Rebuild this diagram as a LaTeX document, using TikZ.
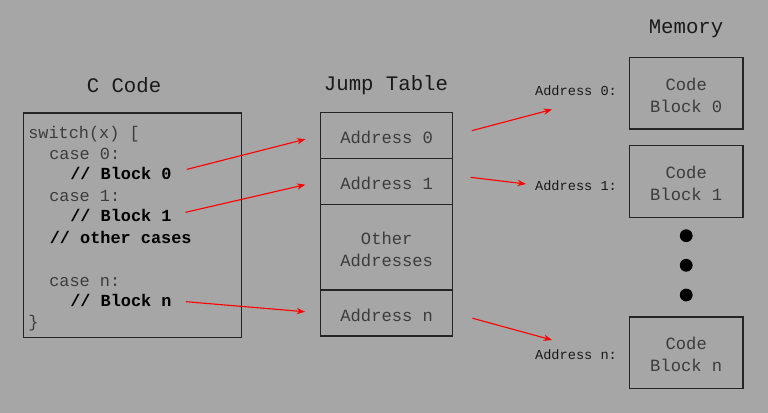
\documentclass[tikz,border=0pt]{standalone}
\usepackage{fontspec}
\setmonofont{Liberation Mono}
\usetikzlibrary{arrows.meta, calc, positioning}
\definecolor{bggray}{RGB}{166,166,166}
\definecolor{txtgray}{RGB}{60,60,60}
\definecolor{boxline}{RGB}{36,36,36}

\begin{document}
\begin{tikzpicture}[x=0.025cm, y=-0.025cm,
    title/.style={font=\ttfamily\fontsize{14.7}{16}\selectfont, text=black!90},
    codeline/.style={anchor=mid west, inner sep=0pt, font=\ttfamily\fontsize{12}{14}\selectfont, text=txtgray},
    boldline/.style={codeline, font=\ttfamily\bfseries\fontsize{12}{14}\selectfont, text=black},
    cell/.style={draw=boxline, line width=1.1pt, minimum width=3.3cm, align=center, text height=11.6pt,
                 font=\ttfamily\fontsize{12.2}{15.5}\selectfont, text=txtgray},
    twoline/.style={cell, text height=27.2pt},
    memlabel/.style={font=\ttfamily\fontsize{9.7}{12}\selectfont, text=black!90},
    jump/.style={red, line width=0.8pt, -{Stealth[length=6pt,width=4.5pt]}}
]
    \fill[bggray] (0,0) rectangle (768,413);

    % titles
    \node[title] (tcode) at (124,85.5) {C Code};
    \node[title] (ttable) at (386,85.5) {Jump Table};
    \node[title] (tmem) at (686,28.5) {Memory};

    % C code
    \node[draw=boxline, line width=1.1pt, minimum width=5.45cm, minimum height=5.6cm] (code) at (132.5,225.3) {};
    \node[codeline] (sw) at (28,135.2) {switch(x) [};
    \node[codeline] (c0) at (49,156.2) {case 0:};
    \node[boldline] (b0) at (70,176.2) {// Block 0};
    \node[codeline] (c1) at (49,198) {case 1:};
    \node[boldline] (b1) at (70,218.5) {// Block 1};
    \node[boldline] (oc) at (49.5,240.2) {// other cases};
    \node[codeline] (cn) at (49,283) {case n:};
    \node[boldline] (bn) at (70,303.5) {// Block n};
    \node[codeline] (cl) at (28,324) {\}};

    % jump table
    \node[cell, minimum height=1.14cm] (r0) at (386.7,135.5) {Address 0};
    \node[cell, minimum height=1.15cm] (r1) at (386.7,181.3) {Address 1};
    \node[twoline, minimum height=2.14cm] (ro) at (386.7,247.2) {Other\\Addresses};
    \node[cell, minimum height=1.15cm] (rn) at (386.7,313) {Address n};

    % memory
    \node[twoline, minimum width=2.84cm, minimum height=1.79cm] (m0) at (686.2,93.4) {Code\\Block 0};
    \node[twoline, minimum width=2.84cm, minimum height=1.79cm] (m1) at (686.2,181.5) {Code\\Block 1};
    \node[twoline, minimum width=2.84cm, minimum height=1.79cm] (mn) at (686.2,352.7) {Code\\Block n};
    \foreach \y in {235.7,265.3,295}
        \fill[black] (686.2,\y) circle (0.16cm);

    \node[memlabel] (l0) at (576,90.5) {Address 0:};
    \node[memlabel] (l1) at (576,185.5) {Address 1:};
    \node[memlabel] (ln) at (576,354.5) {Address n:};
    \coordinate (p0) at (552,109.5);
    \coordinate (p1) at (526,184);
    \coordinate (pn) at (552,340);

    % arrows
    \draw[jump, shorten <=11pt, shorten >=10.6pt] (b0.east) -- (r0.west);
    \draw[jump, shorten <=10pt, shorten >=10.6pt] (b1.east) -- (r1.west);
    \draw[jump, shorten <=10pt, shorten >=10.6pt] (bn.east) -- (rn.west);
    \draw[jump, shorten <=13.5pt] (r0.east) -- (p0);
    \draw[jump] ([shift={(17,-4)}]r1.east) -- (p1);
    \draw[jump, shorten <=14pt] (rn.east) -- (pn);
\end{tikzpicture}
\end{document}
